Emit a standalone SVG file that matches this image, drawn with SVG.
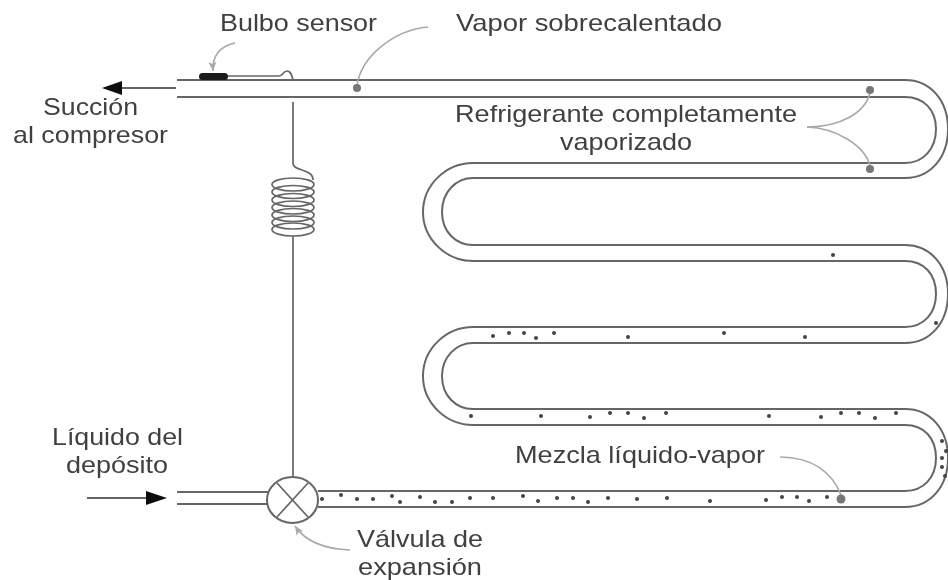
<svg xmlns="http://www.w3.org/2000/svg" width="948" height="580" viewBox="0 0 948 580">
<style>
text{font-family:"Liberation Sans",Arial,sans-serif;font-size:24px;fill:#404040}
.p{fill:none;stroke:#666;stroke-width:2}
.c{fill:none;stroke:#666;stroke-width:1.700}
.l{fill:none;stroke:#a8a8a8;stroke-width:1.600}
.d{fill:#444}
.g{fill:#777}
</style>
<defs>
<marker id="ah" markerWidth="12" markerHeight="10" refX="10" refY="5" orient="auto" markerUnits="userSpaceOnUse"><path d="M1 1L10 5L1 9L3 5Z" fill="#aaa"/></marker>
<filter id="b" x="-5%" y="-5%" width="110%" height="110%"><feGaussianBlur stdDeviation="0.5"/></filter>
</defs>
<rect width="948" height="580" fill="#fff"/>
<g filter="url(#b)">
<g id="connectors">
<path class="p" d="M177 80H905C930 80 948 100 948 129C948 158 930 178 905 178H473C456 178 442 192 442 212C442 232 456 245 473 245H905C930 245 948 265 948 294C948 323 930 343 905 343H473C456 343 442 357 442 376C442 396 456 409 473 409H905C930 409 948 429 948 458C948 487 930 507 905 507H318"/>
<path class="p" d="M177 97H905C924 97 936 110 936 129C936 148 924 163 905 163H473C446 163 423 185 423 212C423 239 446 261 473 261H905C924 261 936 274 936 294C936 313 924 327 905 327H473C446 327 423 349 423 376C423 403 446 425 473 425H905C924 425 936 438 936 458C936 477 924 491 905 491H318"/>
<path class="p" d="M177 492H268M177 504H268"/>
<path fill="none" stroke="#333" stroke-width="1.500" d="M118 88H176"/>
<path fill="#111" d="M102 88L122 81V95Z"/>
<path fill="none" stroke="#333" stroke-width="1.500" d="M87 498H150"/>
<path fill="#111" d="M167 498L146 491V505Z"/>
<path class="c" d="M293 102V163C293 172 313 168 313 180"/>
<path class="c" d="M293 236V477"/>
<path class="l" d="M235 43C220 46 212 56 213 71" marker-end="url(#ah)"/>
<path class="l" d="M428 27C395 30 362 55 357 85"/>
<path class="l" d="M807 127C840 127 865 113 870 93"/>
<path class="l" d="M807 127C835 128 865 145 870 166"/>
<path class="l" d="M780 457C812 457 832 472 841 495"/>
<path class="l" d="M350 550C325 549 305 541 295 526" marker-end="url(#ah)"/>
</g>
<g id="bulbo-sensor">
<rect x="199" y="73" width="29" height="7" rx="3.500" fill="#1c1c1c"/>
<path class="c" d="M228 76H279C283 76 283 71 287 71C291 71 292 76 293 80"/>
</g>
<g id="serpentin">
<ellipse class="c" cx="293" cy="184.500" rx="21" ry="6.500"/>
<ellipse class="c" cx="293" cy="192" rx="21" ry="6.500"/>
<ellipse class="c" cx="293" cy="200" rx="21" ry="6.500"/>
<ellipse class="c" cx="293" cy="207.500" rx="21" ry="6.500"/>
<ellipse class="c" cx="293" cy="215" rx="21" ry="6.500"/>
<ellipse class="c" cx="293" cy="222.500" rx="21" ry="6.500"/>
<ellipse class="c" cx="293" cy="229.500" rx="21" ry="6.500"/>
</g>
<g id="valvula">
<ellipse cx="292.500" cy="500" rx="25.500" ry="23" fill="#fff" stroke="#666" stroke-width="2"/>
<path class="c" d="M277 483L308 517M308 483L277 517"/>
</g>
<g id="puntos-grandes">
<circle class="g" cx="357" cy="88" r="4"/>
<circle class="g" cx="870" cy="90" r="4"/>
<circle class="g" cx="870" cy="169" r="4"/>
<circle class="g" cx="841" cy="499" r="4.500"/>
</g>
<g id="gotas" class="d">
<circle cx="833" cy="255" r="2"/><circle cx="936" cy="323" r="2"/><circle cx="724" cy="333" r="2"/><circle cx="805" cy="337" r="2"/>
<circle cx="493" cy="336" r="2"/><circle cx="509" cy="333" r="2"/><circle cx="524" cy="333" r="2"/><circle cx="536" cy="338" r="2"/><circle cx="554" cy="333" r="2"/><circle cx="628" cy="337" r="2"/>
<circle cx="471" cy="416" r="2"/><circle cx="541" cy="416" r="2"/><circle cx="590" cy="417" r="2"/><circle cx="610" cy="413" r="2"/><circle cx="628" cy="413" r="2"/><circle cx="644" cy="418" r="2"/><circle cx="666" cy="413" r="2"/>
<circle cx="769" cy="416" r="2"/><circle cx="821" cy="417" r="2"/><circle cx="841" cy="413" r="2"/><circle cx="859" cy="413" r="2"/><circle cx="875" cy="418" r="2"/><circle cx="896" cy="413" r="2"/>
<circle cx="942" cy="441" r="2"/><circle cx="946" cy="451" r="2"/><circle cx="942" cy="458" r="2"/><circle cx="942" cy="467" r="2"/><circle cx="945" cy="476" r="2"/>
<circle cx="766" cy="500" r="2"/><circle cx="782" cy="497" r="2"/><circle cx="797" cy="497" r="2"/><circle cx="809" cy="501" r="2"/><circle cx="827" cy="497" r="2"/><circle cx="710" cy="501" r="2"/>
<circle cx="322" cy="499" r="2"/><circle cx="341" cy="495" r="2"/><circle cx="357" cy="499" r="2"/><circle cx="373" cy="499" r="2"/><circle cx="392" cy="496" r="2"/><circle cx="400" cy="502" r="2"/>
<circle cx="420" cy="497" r="2"/><circle cx="435" cy="502" r="2"/><circle cx="452" cy="502" r="2"/><circle cx="470" cy="498" r="2"/><circle cx="493" cy="498" r="2"/><circle cx="523" cy="496" r="2"/><circle cx="538" cy="501" r="2"/><circle cx="557" cy="498" r="2"/><circle cx="573" cy="498" r="2"/><circle cx="588" cy="502" r="2"/><circle cx="608" cy="498" r="2"/><circle cx="637" cy="499" r="2"/><circle cx="667" cy="498" r="2"/>
</g>
<g id="etiquetas">
<text x="220" y="31" textLength="157" lengthAdjust="spacingAndGlyphs">Bulbo sensor</text>
<text x="456" y="31" textLength="266" lengthAdjust="spacingAndGlyphs">Vapor sobrecalentado</text>
<text x="43" y="115" textLength="95" lengthAdjust="spacingAndGlyphs">Succión</text>
<text x="13" y="143" textLength="155" lengthAdjust="spacingAndGlyphs">al compresor</text>
<text x="455" y="122" textLength="342" lengthAdjust="spacingAndGlyphs">Refrigerante completamente</text>
<text x="560" y="150" textLength="132" lengthAdjust="spacingAndGlyphs">vaporizado</text>
<text x="52" y="445" textLength="131" lengthAdjust="spacingAndGlyphs">Líquido del</text>
<text x="66" y="473" textLength="102" lengthAdjust="spacingAndGlyphs">depósito</text>
<text x="515" y="463" textLength="250" lengthAdjust="spacingAndGlyphs">Mezcla líquido-vapor</text>
<text x="357" y="547" textLength="126" lengthAdjust="spacingAndGlyphs">Válvula de</text>
<text x="358" y="575" textLength="124" lengthAdjust="spacingAndGlyphs">expansión</text>
</g>
</g>
</svg>
